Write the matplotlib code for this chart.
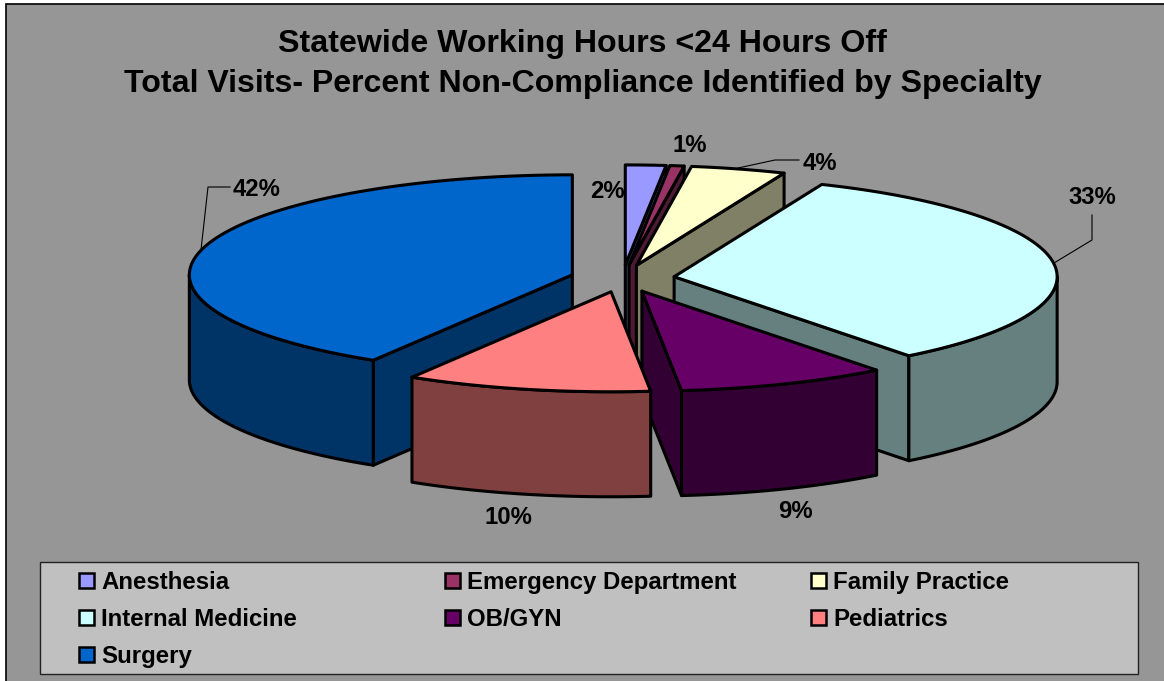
import numpy as np
import matplotlib
matplotlib.use('Agg')
import matplotlib.pyplot as plt
from matplotlib.patches import Polygon, Rectangle

# data
specialties = ['Anesthesia', 'Emergency Department', 'Family Practice', 'Internal Medicine',
               'OB/GYN', 'Pediatrics', 'Surgery']
percents = [1.7, 0.6, 4.0, 33.2, 8.85, 10.35, 41.3]
percent_labels = ['2%', '1%', '4%', '33%', '9%', '10%', '42%']
top_colors = ['#9999FF', '#993366', '#FFFFCC', '#CCFFFF', '#660066', '#FF8080', '#0066CC']
side_colors = ['#4D4D80', '#4D1A33', '#808066', '#668080', '#330033', '#804040', '#003366']
title_lines = ['Statewide Working Hours <24 Hours Off',
               'Total Visits- Percent Non-Compliance Identified by Specialty']

plt.rcParams['font.family'] = ['Liberation Sans', 'DejaVu Sans']

# pie geometry, in pixels
cx, cy = 622.5, 278.5
rx, ry = 383, 100
depth = 105
explode = 0.136
edge_lw = 2.2

bg = '#969696'
fig = plt.figure(figsize=(11.64, 6.81), dpi=100, facecolor='white')
ax = fig.add_axes([0, 0, 1, 1])
ax.set_xlim(0, 1164)
ax.set_ylim(681, 0)
ax.axis('off')

# chart area with its top and left border
ax.add_patch(Rectangle((6, 4), 1160, 680, facecolor=bg, edgecolor='none', zorder=0))
ax.plot([6, 6, 1164], [681, 4, 4], color='black', lw=1.2, zorder=1, solid_joinstyle='miter')

ax.text(582.5, 44, title_lines[0], ha='center', va='center', fontsize=23.1, fontweight='bold')
ax.text(582.5, 84, title_lines[1], ha='center', va='center', fontsize=23.1, fontweight='bold')


def rim(apex, angles):
    # angles clockwise from 12 o'clock, in radians
    return np.column_stack([apex[0] + rx * np.sin(angles), apex[1] - ry * np.cos(angles)])


def is_visible(apex, end_pt, inner_pt):
    # the cut face shows when the extrusion goes away from the top of the slice
    dx, dy = end_pt[0] - apex[0], end_pt[1] - apex[1]
    inner = dx * (inner_pt[1] - apex[1]) - dy * (inner_pt[0] - apex[0])
    return inner * dx < 0


fractions = np.array(percents) / sum(percents)
stops = np.concatenate([[0], np.cumsum(fractions)]) * 2 * np.pi
draw_order = [6, 0, 1, 2, 3, 4, 5]

for i in draw_order:
    a0, a1 = stops[i], stops[i + 1]
    mid = (a0 + a1) / 2
    apex = np.array([cx + explode * rx * np.sin(mid), cy - explode * ry * np.cos(mid)])
    arc = rim(apex, np.linspace(a0, a1, 120))
    z = 10 + draw_order.index(i) * 3
    style = dict(edgecolor='black', lw=edge_lw, joinstyle='round')

    # cut faces
    mid_pt = rim(apex, np.array([mid]))[0]
    for pt in (arc[0], arc[-1]):
        if is_visible(apex, pt, mid_pt):
            face = np.array([apex, pt, pt + [0, depth], apex + [0, depth]])
            ax.add_patch(Polygon(face, facecolor=side_colors[i], zorder=z, **style))

    # outer wall, only the part that faces the viewer
    w0, w1 = max(a0, np.pi / 2), min(a1, 3 * np.pi / 2)
    if w1 > w0:
        front = rim(apex, np.linspace(w0, w1, 120))
        wall = np.vstack([front, front[::-1] + [0, depth]])
        ax.add_patch(Polygon(wall, facecolor=side_colors[i], zorder=z + 1, **style))

    top = np.vstack([apex, arc])
    ax.add_patch(Polygon(top, facecolor=top_colors[i], zorder=z + 2, **style))

# percent labels and leader lines
label_xy = [(607, 191), (690, 146), (820, 163), (1092, 197), (795, 511), (508, 517), (257, 190)]
for lab, (x, y) in zip(percent_labels, label_xy):
    ax.text(x, y, lab, ha='center', va='center', fontsize=17.2, fontweight='bold', zorder=40)

leaders = [([738, 775, 799], [168, 160, 160]),
           ([1054, 1092, 1092], [263, 240, 215]),
           ([201, 208, 230], [250, 187, 187])]
for xs, ys in leaders:
    ax.plot(xs, ys, color='black', lw=0.8, zorder=39)

# legend
ax.add_patch(Rectangle((39.5, 561.5), 1098, 112, facecolor='#C0C0C0', edgecolor='#222222', lw=1.0, zorder=30))
col_x = [79, 445, 811]
row_y = [581, 618, 655]
for i, name in enumerate(specialties):
    x = col_x[i % 3]
    y = row_y[i // 3]
    ax.add_patch(Rectangle((x, y - 8), 15, 15, facecolor=top_colors[i], edgecolor='black', lw=1.8, zorder=31))
    ax.text(x + 22, y + 1.5, name, ha='left', va='center', fontsize=17.3, fontweight='bold', zorder=31)

fig.savefig('out.png', dpi=100, facecolor='white')
